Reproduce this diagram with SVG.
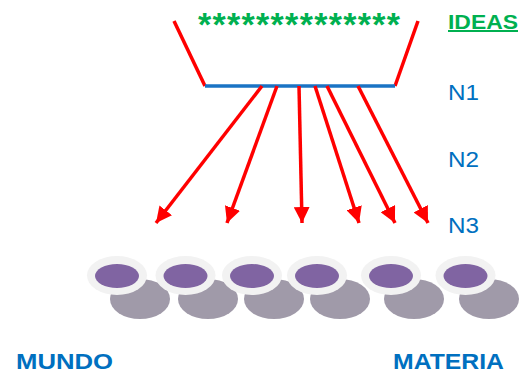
<svg xmlns="http://www.w3.org/2000/svg" width="519" height="374" viewBox="0 0 519 374">
<style>
  .red{stroke:#FF0000;stroke-width:3.5;fill:none;stroke-linecap:butt}
  .arrow{stroke:#FF0000;stroke-width:3.5;fill:none;marker-end:url(#ah)}
  .lbl{font-family:"Liberation Sans",Arial,sans-serif;fill:#0070C0;font-size:22px}
  .bold{font-weight:bold}
  .gray{fill:#A09AA9}
  .ring{fill:#F2F2F2}
  .dot{fill:#8064A2}
</style>
<defs>
  <marker id="ah" markerUnits="userSpaceOnUse" markerWidth="17" markerHeight="16" refX="16" refY="8" orient="auto" viewBox="0 0 17 16">
    <path d="M0,0 L16,8 L0,16 z" fill="#FF0000"/>
  </marker>
</defs>
<rect width="519" height="374" fill="#FFFFFF"/>
<g id="funnel">
  <line class="red" x1="174" y1="21" x2="205" y2="86"/>
  <line class="red" x1="418" y1="21" x2="395" y2="86"/>
  <line x1="205" y1="86" x2="395" y2="86" stroke="#1A73C4" stroke-width="3.5"/>
</g>
<g id="stars">
  <text x="198" y="36" textLength="202" lengthAdjust="spacing" font-family="Liberation Sans, Arial, sans-serif" font-weight="bold" font-size="34" fill="#00B050">**************</text>
</g>
<g id="labels">
  <text x="448" y="29" class="bold" font-family="Liberation Sans, Arial, sans-serif" font-size="20" fill="#00B050" text-decoration="underline" textLength="70" lengthAdjust="spacingAndGlyphs">IDEAS</text>
  <text class="lbl" x="448" y="100" textLength="31" lengthAdjust="spacingAndGlyphs">N1</text>
  <text class="lbl" x="448" y="167" textLength="31" lengthAdjust="spacingAndGlyphs">N2</text>
  <text class="lbl" x="448" y="233" textLength="31" lengthAdjust="spacingAndGlyphs">N3</text>
  <text class="lbl bold" x="16" y="369" font-size="23" textLength="97" lengthAdjust="spacingAndGlyphs">MUNDO</text>
  <text class="lbl bold" x="393" y="369" font-size="23" textLength="111" lengthAdjust="spacingAndGlyphs">MATERIA</text>
</g>
<g id="connectors">
  <line class="arrow" x1="262" y1="86" x2="156" y2="223"/>
  <line class="arrow" x1="277" y1="86" x2="227" y2="223"/>
  <line class="arrow" x1="299" y1="86" x2="302" y2="223"/>
  <line class="arrow" x1="315" y1="86" x2="359" y2="223"/>
  <line class="arrow" x1="327" y1="86" x2="395" y2="223"/>
  <line class="arrow" x1="358" y1="86" x2="428" y2="223"/>
</g>
<g id="matter-back">
  <ellipse class="gray" cx="140" cy="299" rx="30" ry="20"/>
  <ellipse class="gray" cx="208" cy="299" rx="30" ry="20"/>
  <ellipse class="gray" cx="274" cy="299" rx="30" ry="20"/>
  <ellipse class="gray" cx="340" cy="299" rx="30" ry="20"/>
  <ellipse class="gray" cx="414" cy="299" rx="30" ry="20"/>
  <ellipse class="gray" cx="489" cy="299" rx="30" ry="20"/>
</g>
<g id="particle1"><ellipse class="ring" cx="117" cy="275.5" rx="30" ry="19.5"/><ellipse class="dot" cx="117" cy="276" rx="22" ry="12"/></g>
<g id="particle2"><ellipse class="ring" cx="185.5" cy="275.5" rx="30" ry="19.5"/><ellipse class="dot" cx="185.5" cy="276" rx="22" ry="12"/></g>
<g id="particle3"><ellipse class="ring" cx="252" cy="275.5" rx="30" ry="19.5"/><ellipse class="dot" cx="252" cy="276" rx="22" ry="12"/></g>
<g id="particle4"><ellipse class="ring" cx="317" cy="275.5" rx="30" ry="19.5"/><ellipse class="dot" cx="317" cy="276" rx="22" ry="12"/></g>
<g id="particle5"><ellipse class="ring" cx="391" cy="275.5" rx="30" ry="19.5"/><ellipse class="dot" cx="391" cy="276" rx="22" ry="12"/></g>
<g id="particle6"><ellipse class="ring" cx="465.5" cy="275.5" rx="30" ry="19.5"/><ellipse class="dot" cx="465.5" cy="276" rx="22" ry="12"/></g>
</svg>
